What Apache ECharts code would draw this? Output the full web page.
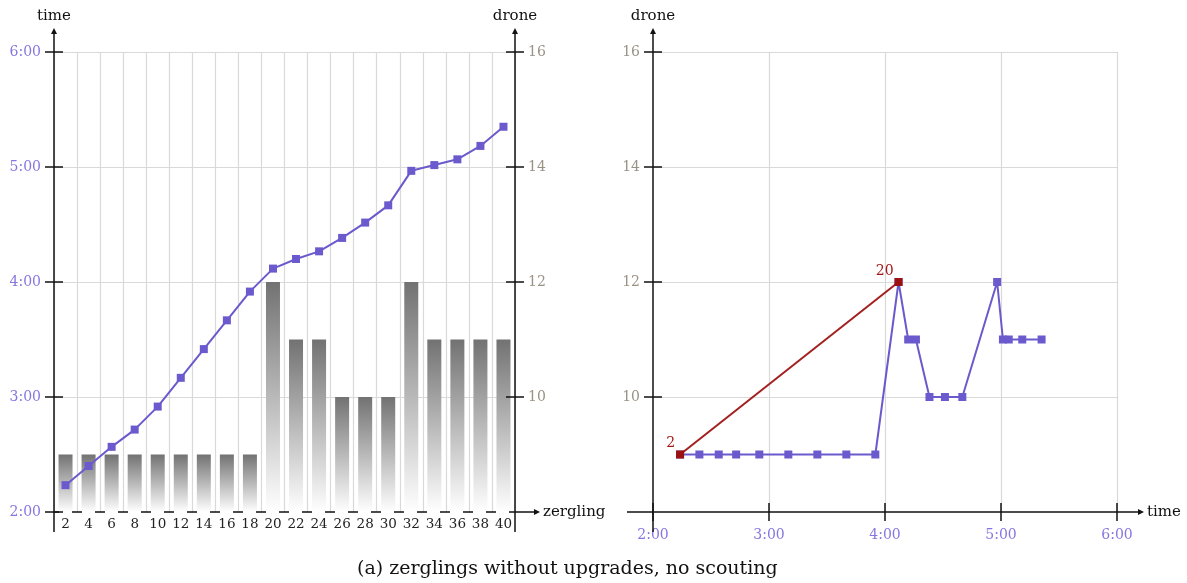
<!DOCTYPE html>
<html>
<head>
<meta charset="utf-8">
<script src="https://cdn.jsdelivr.net/npm/echarts@6/dist/echarts.min.js"></script>
<style>
html,body{margin:0;padding:0;background:#fff;}
#main{width:1187px;height:583px;}
</style>
</head>
<body>
<div id="main"></div>
<script>
// ---- data ----
const zerglings = ['2','4','6','8','10','12','14','16','18','20','22','24','26','28','30','32','34','36','38','40'];
// game time (seconds) at which each zergling pair was produced
const times = [134,144,154,163,175,190,205,220,235,247,252,256,263,271,280,298,301,304,311,321];
// drone count at that time
const drones = [9,9,9,9,9,9,9,9,9,12,11,11,10,10,10,12,11,11,11,11];
const timeTicks = [120,180,240,300,360];
const droneTicks = [10,12,14,16];
const highlight = [0, 9]; // indices of highlighted points (2 and 20 zerglings)
const caption = '(a) zerglings without upgrades, no scouting';

const SERIF = '"DejaVu Serif", serif';
const PURPLE = '#6a5acd';
const PURPLE_LBL = '#8677e0';
const GRAY_LBL = '#9a9285';
const GRID = '#d9d9d9';
const RED = '#9b1010';

function fmtTime(v){
  const m = Math.floor(v/60), s = Math.round(v - m*60);
  return m + ':' + (s<10?'0':'') + s;
}

const option = {
  animation: false,
  backgroundColor: '#fff',
  title: {
    text: caption, left: 352, top: 555,
    textStyle: {fontFamily: SERIF, fontSize: 19, fontWeight: 'normal', color: '#111'}
  },
  grid: [
    {left: 54, top: 52, width: 461, height: 460},
    {left: 653, top: 52, width: 464, height: 460}
  ],
  xAxis: [
    {
      type: 'category', gridIndex: 0, data: zerglings, boundaryGap: true,
      axisLine: {show: false}, axisTick: {show: false},
      axisLabel: {color: '#222', fontFamily: SERIF, fontSize: 13.5, margin: 5, interval: 0},
      splitLine: {show: true, interval: 0, lineStyle: {color: GRID, width: 1.2}}
    },
    {
      type: 'value', gridIndex: 1, min: 120, max: 360, interval: 60,
      axisLine: {show: false}, axisTick: {show: false},
      axisLabel: {color: PURPLE_LBL, fontFamily: SERIF, fontSize: 14, margin: 16, formatter: fmtTime},
      splitLine: {show: true, showMinLine: false, lineStyle: {color: GRID, width: 1.2}}
    }
  ],
  yAxis: [
    {
      type: 'value', gridIndex: 0, position: 'left', min: 120, max: 360, interval: 60,
      axisLine: {show: false}, axisTick: {show: false},
      axisLabel: {color: PURPLE_LBL, fontFamily: SERIF, fontSize: 14, margin: 13, formatter: fmtTime},
      splitLine: {show: true, showMinLine: false, lineStyle: {color: GRID, width: 1.2}}
    },
    {
      type: 'value', gridIndex: 0, position: 'right', min: 8, max: 16, interval: 2,
      axisLine: {show: false}, axisTick: {show: false},
      axisLabel: {color: GRAY_LBL, fontFamily: SERIF, fontSize: 14, margin: 13,
        formatter: v => (droneTicks.indexOf(v) >= 0 ? String(v) : '')},
      splitLine: {show: false}
    },
    {
      type: 'value', gridIndex: 1, position: 'left', min: 8, max: 16, interval: 2,
      axisLine: {show: false}, axisTick: {show: false},
      axisLabel: {color: GRAY_LBL, fontFamily: SERIF, fontSize: 14, margin: 13,
        formatter: v => (droneTicks.indexOf(v) >= 0 ? String(v) : '')},
      splitLine: {show: true, showMinLine: false, lineStyle: {color: GRID, width: 1.2}}
    }
  ],
  series: [
    {
      type: 'bar', xAxisIndex: 0, yAxisIndex: 1, data: drones, barWidth: 14, z: 2,
      itemStyle: {
        color: new echarts.graphic.LinearGradient(0, 0, 0, 1, [
          {offset: 0, color: '#727272'}, {offset: 1, color: '#ffffff'}
        ])
      }
    },
    {
      type: 'line', xAxisIndex: 0, yAxisIndex: 0, data: times, z: 5,
      symbol: 'rect', symbolSize: 8,
      lineStyle: {color: PURPLE, width: 2}, itemStyle: {color: PURPLE}
    },
    {
      type: 'line', xAxisIndex: 1, yAxisIndex: 2, z: 5,
      data: times.map((t, i) => [t, drones[i]]),
      symbol: 'rect', symbolSize: 8,
      lineStyle: {color: PURPLE, width: 2}, itemStyle: {color: PURPLE}
    },
    {
      type: 'line', xAxisIndex: 1, yAxisIndex: 2, z: 6,
      data: highlight.map(i => ({value: [times[i], drones[i]], name: zerglings[i]})),
      symbol: 'rect', symbolSize: 8,
      lineStyle: {color: '#a32020', width: 2}, itemStyle: {color: RED},
      label: {show: true, position: 'left', offset: [4, -11], formatter: p => p.name,
        color: '#a01818', fontFamily: SERIF, fontSize: 14}
    }
  ]
};

const chart = echarts.init(document.getElementById('main'), null, {renderer: 'canvas'});
chart.setOption(option);

function decorate(){
  const r0 = chart.getModel().getComponent('grid', 0).coordinateSystem.getRect();
  const r1 = chart.getModel().getComponent('grid', 1).coordinateSystem.getRect();
  const els = [];
  const black = '#111';
  function line(x1, y1, x2, y2, extra){
    els.push({type: 'line', silent: true, z: 20,
      shape: {x1, y1, x2, y2},
      style: Object.assign({stroke: black, lineWidth: 1.5}, extra || {})});
  }
  function arrowUp(x, y){
    els.push({type: 'polygon', silent: true, z: 21,
      shape: {points: [[x, y], [x - 3, y + 6], [x + 3, y + 6]]}, style: {fill: black}});
  }
  function arrowRight(x, y){
    els.push({type: 'polygon', silent: true, z: 21,
      shape: {points: [[x, y], [x - 6, y - 3], [x - 6, y + 3]]}, style: {fill: black}});
  }
  function text(t, x, y, align){
    els.push({type: 'text', silent: true, z: 21, x, y,
      style: {text: t, fill: '#111', font: '15px ' + SERIF, align: align || 'center', verticalAlign: 'middle'}});
  }
  // ---- left chart ----
  const L = r0.x, R = r0.x + r0.width, T = r0.y, B = r0.y + r0.height;
  line(L, B + 20, L, T - 22); arrowUp(L, T - 24);
  line(R, B + 20, R, T - 22); arrowUp(R, T - 24);
  line(L, B, R, B, {lineDash: [10, 13], lineDashOffset: 5});
  line(R, B, R + 22, B); arrowRight(R + 25, B);
  text('time', L, T - 36); text('drone', R, T - 36);
  text('zergling', R + 28, B, 'left');
  timeTicks.forEach(v => {
    if (v === 120) { line(L - 9, B, L + 9, B); return; }
    const y = chart.convertToPixel({yAxisIndex: 0}, v);
    line(L - 9, y, L + 9, y);
  });
  droneTicks.forEach(v => {
    const y = chart.convertToPixel({yAxisIndex: 1}, v);
    line(R - 9, y, R + 9, y);
  });
  // ---- right chart ----
  const L2 = r1.x, R2 = r1.x + r1.width, T2 = r1.y, B2 = r1.y + r1.height;
  line(L2, B2 + 20, L2, T2 - 22); arrowUp(L2, T2 - 24);
  line(L2 - 26, B2, R2 + 24, B2); arrowRight(R2 + 27, B2);
  text('drone', L2, T2 - 36);
  text('time', R2 + 30, B2, 'left');
  droneTicks.forEach(v => {
    const y = chart.convertToPixel({yAxisIndex: 2}, v);
    line(L2 - 9, y, L2 + 9, y);
  });
  timeTicks.forEach(v => {
    const x = chart.convertToPixel({xAxisIndex: 1}, v);
    line(x, B2 - 9, x, B2 + 9);
  });
  chart.setOption({graphic: els});
}
decorate();
</script>
</body>
</html>
